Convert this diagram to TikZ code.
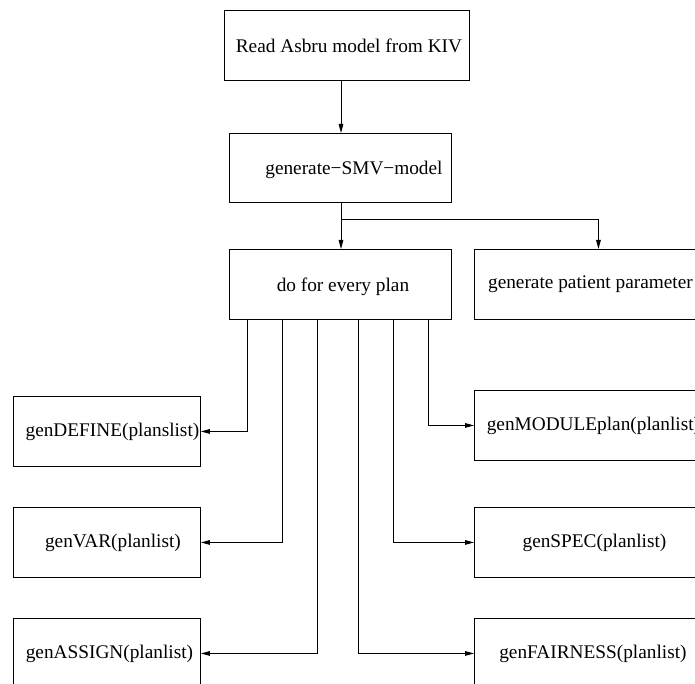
\documentclass[tikz,border=0pt]{standalone}
\usepackage{fontspec}
\setmainfont{Liberation Serif}
\usetikzlibrary{arrows.meta}
\begin{document}
\begin{tikzpicture}[x=1pt,y=-1pt,
  box/.style={draw, line width=0.9pt, inner sep=0pt, anchor=north west},
  txt/.style={font=\fontsize{19.3}{23}\selectfont, inner sep=0pt},
  arr/.style={line width=0.9pt, -{Triangle[length=9pt,width=4.6pt]}},
  link/.style={line width=0.9pt}]
\useasboundingbox (0,0) rectangle (695,684);
\clip (0,0) rectangle (695,684);

% main chain
\node[box, minimum width=245pt, minimum height=70pt,
  label={[txt,xshift=2pt]center:Read Asbru model from KIV}] (read) at (224,10) {};
\node[box, minimum width=222pt, minimum height=69pt,
  label={[txt,xshift=13.5pt,yshift=-2pt]center:generate−SMV−model}] (smv) at (229,133) {};
\node[box, minimum width=222pt, minimum height=70pt,
  label={[txt,xshift=2.5pt,yshift=-2pt]center:do for every plan}] (plan) at (229,249) {};
\node[box, minimum width=248pt, minimum height=70pt,
  label={[txt,xshift=-8pt]center:generate patient parameter}] (patient) at (474,249) {};

% generator boxes, left column
\node[box, minimum width=187pt, minimum height=70pt,
  label={[txt,xshift=5.5pt]center:genDEFINE(planslist)}] (define) at (13,396) {};
\node[box, minimum width=187pt, minimum height=70pt,
  label={[txt,xshift=6pt]center:genVAR(planlist)}] (var) at (13,507) {};
\node[box, minimum width=187pt, minimum height=70pt,
  label={[txt,xshift=2.5pt]center:genASSIGN(planlist)}] (assign) at (13,618) {};

% generator boxes, right column
\node[box, minimum width=248pt, minimum height=70pt,
  label={[txt,xshift=-5pt]center:genMODULEplan(planlist)}] (module) at (474,390) {};
\node[box, minimum width=248pt, minimum height=70pt,
  label={[txt,xshift=-4pt]center:genSPEC(planlist)}] (spec) at (474,507) {};
\node[box, minimum width=248pt, minimum height=70pt,
  label={[txt,xshift=-5.5pt]center:genFAIRNESS(planlist)}] (fair) at (474,618) {};

% trunk
\coordinate (trunk) at (341,219);
\draw[arr] (read.south -| trunk) -- (smv.north -| trunk);
\draw[link] (smv.south -| trunk) -- (trunk);
\draw[arr] (trunk) -- (plan.north -| trunk);
\draw[arr] (trunk) -| (patient.north);

% branches to the generators
\draw[arr] (plan.south -| 247,0) |- (define.east);
\draw[arr] (plan.south -| 282,0) |- (var.east);
\draw[arr] (plan.south -| 317,0) |- (assign.east);
\draw[arr] (plan.south -| 358,0) |- (fair.west);
\draw[arr] (plan.south -| 393,0) |- (spec.west);
\draw[arr] (plan.south -| 428,0) |- (module.west);
\end{tikzpicture}
\end{document}
